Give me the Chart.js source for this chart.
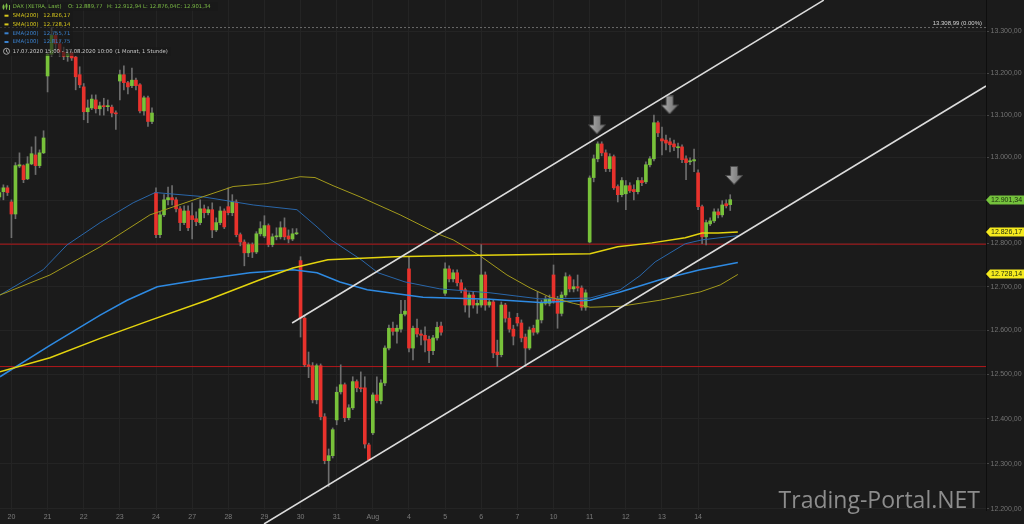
<!DOCTYPE html>
<html>
<head>
<meta charset="utf-8">
<script src="https://cdn.jsdelivr.net/npm/chart.js@4.4.1/dist/chart.umd.min.js"></script>
<style>
  html, body { margin: 0; padding: 0; background: #1b1b1b; }
  #chartCanvas { display: block; }
</style>
</head>
<body>
<canvas id="chartCanvas" width="1024" height="524"></canvas>
<script>
// DAX hourly candles, 17.07.2020 15:00 ... 14.08.2020 17:00 (x = candle number)
const candleOpen = [
  12908, 12920, 12929, 12896, 12868, 12980, 12981, 12950, 12985, 13006, 12981, 13011,
  13193, 13245, 13290, 13270, 13250, 13240, 13248, 13238, 13196,
  13167, 13108, 13117, 13136, 13115, 13122, 13120, 13119, 13105,
  13181, 13196, 13177, 13170, 13183, 13172, 13110, 13141, 13085,
  12918, 12820, 12866, 12901, 12906, 12901, 12880, 12848, 12875,
  12864, 12857, 12848, 12880, 12871, 12878, 12831, 12848, 12875,
  12885, 12871, 12896, 12820, 12803, 12778, 12797, 12780, 12822,
  12817, 12841, 12797, 12815, 12815, 12836, 12817, 12810, 12822,
  12760, 12628, 12522, 12520, 12443, 12520, 12405, 12307, 12318,
  12398, 12461, 12477, 12403, 12425, 12484, 12470, 12470, 12342,
  12369, 12454, 12441, 12481, 12560, 12605, 12598, 12603, 12637,
  12741, 12560, 12605, 12592, 12589, 12580, 12554, 12583, 12610,
  12685, 12741, 12718, 12732, 12709, 12693, 12658, 12681, 12658,
  12658, 12727, 12658, 12665, 12551, 12545, 12658, 12628, 12603,
  12630, 12617, 12585, 12560, 12605, 12596, 12624, 12662, 12662,
  12727, 12671, 12639, 12681, 12723, 12695, 12700, 12697, 12653,
  12803, 12953, 12997, 13032, 13011, 12974, 13002, 12932, 12913,
  12915, 12934, 12925, 12920, 12946, 12943, 12983, 12997, 13082,
  13044, 13041, 13037, 13032, 13023, 13025, 12997, 12990, 12992,
  12964, 12885, 12815, 12845, 12852, 12873, 12866, 12892, 12889.77
];
const candleHigh = [
  12929, 12936, 12934, 12901, 12988, 13011, 12983, 13002, 13025, 13049, 13018, 13063,
  13250, 13308.99, 13300, 13280, 13262, 13256, 13252, 13240, 13215,
  13175, 13136, 13148, 13148, 13131, 13140, 13136, 13124, 13110,
  13207, 13217, 13180, 13212, 13188, 13175, 13145, 13145, 13117,
  12929, 12873, 12913, 12931, 12934, 12906, 12885, 12887, 12887,
  12894, 12873, 12901, 12889, 12885, 12894, 12859, 12885, 12880,
  12929, 12913, 12901, 12824, 12808, 12801, 12801, 12827, 12850,
  12864, 12845, 12822, 12836, 12850, 12859, 12831, 12834, 12834,
  12769, 12635, 12551, 12527, 12524, 12524, 12412, 12333, 12380,
  12472, 12522, 12481, 12432, 12495, 12488, 12506, 12495, 12346,
  12459, 12495, 12488, 12565, 12612, 12619, 12612, 12669, 12669,
  12769, 12610, 12626, 12601, 12608, 12587, 12589, 12619, 12619,
  12755, 12748, 12739, 12739, 12716, 12697, 12686, 12688, 12669,
  12797, 12734, 12672, 12669, 12578, 12665, 12662, 12642, 12612,
  12639, 12624, 12592, 12608, 12612, 12688, 12669, 12678, 12681,
  12750, 12678, 12688, 12732, 12727, 12716, 12727, 12702, 12693,
  12957, 13006, 13037, 13037, 13018, 13009, 13006, 12936, 12953,
  12946, 12941, 12936, 12953, 12953, 12990, 13002, 13100, 13086,
  13072, 13053, 13046, 13041, 13034, 13030, 13004, 12999, 13020,
  12971, 12889, 12854, 12859, 12880, 12880, 12899, 12901, 12912.94
];
const candleLow = [
  12901, 12901, 12911, 12813, 12857, 12976, 12941, 12948, 12983, 12960, 12976, 13009,
  13155, 13240, 13255, 13240, 13232, 13228, 13230, 13160, 13165,
  13089, 13082, 13113, 13105, 13100, 13100, 13110, 13096, 13066,
  13136, 13160, 13150, 13165, 13160, 13105, 13100, 13073, 13080,
  12813, 12813, 12862, 12889, 12889, 12873, 12829, 12843, 12829,
  12810, 12841, 12843, 12859, 12866, 12813, 12827, 12843, 12834,
  12866, 12864, 12815, 12794, 12748, 12769, 12767, 12776, 12817,
  12813, 12792, 12792, 12808, 12810, 12808, 12801, 12806, 12820,
  12585, 12518, 12493, 12436, 12434, 12398, 12300, 12249, 12313,
  12387, 12456, 12394, 12398, 12421, 12461, 12461, 12335, 12307,
  12365, 12436, 12434, 12475, 12556, 12589, 12571, 12596, 12633,
  12551, 12533, 12585, 12567, 12551, 12527, 12545, 12578, 12589,
  12680, 12711, 12711, 12702, 12686, 12642, 12630, 12651, 12639,
  12653, 12646, 12653, 12538, 12518, 12540, 12619, 12596, 12567,
  12610, 12574, 12518, 12556, 12589, 12592, 12617, 12658, 12656,
  12662, 12605, 12633, 12676, 12688, 12688, 12690, 12646, 12646,
  12801, 12943, 12990, 13004, 12967, 12967, 12925, 12896, 12908,
  12878, 12918, 12901, 12915, 12934, 12939, 12978, 12992, 13049,
  13006, 13018, 13013, 13016, 12999, 12988, 12948, 12983, 12967,
  12878, 12799, 12796, 12841, 12848, 12859, 12861, 12882, 12876.04
];
const candleClose = [
  12918, 12929, 12918, 12868, 12981, 12983, 12948, 12985, 13009, 12981, 13011, 13046,
  13245, 13290, 13270, 13250, 13240, 13246, 13236, 13191, 13172,
  13108, 13117, 13138, 13115, 13122, 13120, 13122, 13105, 13103,
  13196, 13177, 13167, 13183, 13170, 13110, 13141, 13085, 13105,
  12820, 12866, 12901, 12906, 12901, 12880, 12848, 12875, 12836,
  12855, 12850, 12880, 12871, 12878, 12831, 12848, 12875, 12838,
  12871, 12896, 12820, 12803, 12778, 12797, 12780, 12822, 12834,
  12841, 12797, 12815, 12817, 12836, 12815, 12810, 12822, 12824,
  12628, 12522, 12518, 12443, 12520, 12405, 12307, 12318, 12376,
  12460, 12477, 12403, 12425, 12484, 12470, 12468, 12344, 12309,
  12454, 12441, 12481, 12560, 12605, 12598, 12605, 12637, 12644,
  12560, 12605, 12592, 12589, 12578, 12554, 12583, 12607, 12596,
  12741, 12718, 12732, 12709, 12693, 12658, 12681, 12658, 12662,
  12727, 12658, 12665, 12549, 12545, 12658, 12628, 12603, 12587,
  12617, 12583, 12560, 12601, 12596, 12624, 12662, 12671, 12671,
  12667, 12639, 12681, 12723, 12695, 12700, 12697, 12653, 12686,
  12952, 12997, 13032, 13011, 12974, 13002, 12929, 12913, 12946,
  12934, 12922, 12920, 12946, 12941, 12983, 12997, 13082, 13058,
  13039, 13034, 13030, 13025, 13025, 12995, 12988, 12992, 12995,
  12885, 12815, 12848, 12852, 12873, 12866, 12889, 12887, 12901.34
];

// moving averages as [candle, value]
const sma200 = [[0.15,12506],[12.6,12538],[25.1,12582],[37.5,12623],[51.7,12669],[64.9,12716],[73.1,12743],[81.8,12762],[98.5,12769],[111,12771],[147.1,12776],[154,12792],[162.5,12801],[170.8,12813],[175,12824],[179,12824],[183.9,12826.17]];
const sma100 = [[0.15,12681],[12.6,12727],[25.1,12792],[37.5,12866],[50,12906],[58.2,12932],[66.6,12939],[74.9,12955],[78.6,12953],[83.1,12934],[89.8,12908],[99.8,12866],[109.7,12820],[113,12808],[119.7,12771],[126.4,12727],[132.2,12697],[137.1,12676],[142.9,12662],[147.1,12653],[154.6,12655],[164.5,12669],[174.5,12688],[179.5,12704],[183.9,12728.14]];
const ema200 = [[0.15,12495],[12.6,12566],[25.1,12635],[31.8,12669],[39.3,12700],[50,12716],[62.4,12732],[73.1,12739],[79.1,12732],[84.8,12711],[91.6,12693],[105.5,12676],[122.2,12671],[134.6,12664],[147.1,12669],[154.6,12688],[164.5,12716],[174.5,12739],[183.9,12755.71]];
const ema100 = [[0.15,12681],[10.9,12739],[16.8,12796],[25.1,12848],[33.3,12894],[38.8,12918],[50,12909],[63.2,12889],[74.1,12878],[79.1,12838],[82.6,12808],[90.1,12762],[94.3,12732],[101,12711],[109.7,12695],[122.2,12686],[134.6,12672],[147.1,12674],[154.6,12693],[159.5,12725],[163.3,12757],[170.8,12799],[175,12808],[183.9,12817.75]];

// drawn trend channel and levels
const upperTrend = [[72.9, 12617], [205.3, 13375]];
const lowerTrend = [[65.9, 12167], [245.7, 13169]];
const redLevels = [12798, 12518];
const periodHigh = 13308.99;
const arrowMarks = [[148.8, 13077], [166.9, 13124], [182.96, 12958]];

// axes
const dayTicks = [3, 12, 21, 30, 39, 48, 57, 66, 75, 84, 93, 102, 111, 120, 129, 138, 147, 156, 165, 174];
const dayLabels = ["20", "21", "22", "23", "24", "27", "28", "29", "30", "31", "Aug", "4", "5", "6", "7", "10", "11", "12", "13", "14"];
const priceTicks = [12200, 12300, 12400, 12500, 12600, 12700, 12800, 12900, 13000, 13100, 13200, 13300];
const xMin = 0.15, xMax = 245.7;
const yMin = 12197.7, yMax = 13375.4;

const priceTags = [
  { value: 12901.34, text: "12.901,34", color: "#74c23c" },
  { value: 12826.17, text: "12.826,17", color: "#f5ea1e" },
  { value: 12728.14, text: "12.728,14", color: "#f5ea1e" }
];

const GREEN = "#78c23a";
const RED = "#e8322c";

const fmtPrice = (v) => String(Math.round(v)).replace(/\B(?=(\d{3})+(?!\d))/g, ".") + ",00";
const toPoints = (arr) => arr.map((p) => ({ x: p[0], y: p[1] }));
const flatLine = (v) => [{ x: xMin, y: v }, { x: xMax, y: v }];

const makeArrow = () => {
  const c = document.createElement("canvas");
  c.width = 18; c.height = 19;
  const g = c.getContext("2d");
  g.beginPath();
  g.moveTo(5.5, 0.5); g.lineTo(12.5, 0.5); g.lineTo(12.5, 9.5); g.lineTo(17.5, 9.5);
  g.lineTo(9, 18.5); g.lineTo(0.5, 9.5); g.lineTo(5.5, 9.5); g.closePath();
  const grad = g.createLinearGradient(0, 0, 18, 0);
  grad.addColorStop(0, "#b0b0b0");
  grad.addColorStop(1, "#6c6c6c");
  g.fillStyle = grad;
  g.fill();
  g.strokeStyle = "#4a4a4a";
  g.lineWidth = 1;
  g.stroke();
  return c;
};

const overlay = {
  id: "overlay",
  afterDraw(chart) {
    const ctx = chart.ctx;
    const ys = chart.scales.y;
    ctx.save();

    // label of the period high line
    ctx.font = '6px "Liberation Sans", Arial, sans-serif';
    ctx.fillStyle = "#d4d4d4";
    ctx.textAlign = "right";
    ctx.textBaseline = "middle";
    ctx.fillText("13.308,99 (0.00%)", 982, ys.getPixelForValue(periodHigh) - 4.3);

    // price tags on the axis
    ctx.font = '7px "Liberation Sans", Arial, sans-serif';
    ctx.textAlign = "left";
    priceTags.forEach((t) => {
      const py = Math.round(ys.getPixelForValue(t.value));
      ctx.fillStyle = t.color;
      ctx.beginPath();
      ctx.moveTo(986, py);
      ctx.lineTo(990, py - 4.5);
      ctx.lineTo(1024, py - 4.5);
      ctx.lineTo(1024, py + 4.5);
      ctx.lineTo(990, py + 4.5);
      ctx.closePath();
      ctx.fill();
      ctx.fillStyle = "#1d2a10";
      ctx.fillText(t.text, 991, py + 0.5);
    });

    // legend boxes
    ctx.fillStyle = "rgba(24,24,24,0.62)";
    ctx.fillRect(0, 2.5, 218, 8.5);
    ctx.fillRect(0, 11, 73, 36);
    ctx.fillRect(0, 47, 171, 9);

    ctx.font = '5.3px "DejaVu Sans", Verdana, sans-serif';
    ctx.textBaseline = "middle";
    ctx.textAlign = "left";

    // row 1
    ctx.fillStyle = "#7cbc46";
    ctx.fillRect(3, 4.5, 1, 5);
    ctx.fillRect(2.5, 5.5, 2, 3);
    ctx.fillRect(6, 3.5, 1, 6);
    ctx.fillRect(5.5, 4.5, 2, 3);
    ctx.fillRect(9, 5, 1, 5);
    ctx.fillText("DAX (XETRA, Last)", 12.7, 7);
    ctx.fillText("O: 12.889,77", 68, 7);
    ctx.fillText("H: 12.912,94", 107, 7);
    ctx.fillText("L: 12.876,04", 143, 7);
    ctx.fillText("C: 12.901,34", 176.5, 7);

    const rows = [
      ["SMA(200)", "12.826,17", "#d8c81c", 15.7],
      ["SMA(100)", "12.728,14", "#d8c81c", 24.4],
      ["EMA(200)", "12.755,71", "#3a82d0", 33.3],
      ["EMA(100)", "12.817,75", "#3a82d0", 42]
    ];
    rows.forEach((r) => {
      ctx.fillStyle = r[2];
      ctx.fillRect(4.5, r[3] - 1, 4, 2);
      ctx.fillText(r[0], 12.7, r[3]);
      ctx.fillText(r[1], 43.3, r[3]);
    });

    // row 6
    ctx.strokeStyle = "#c8c8c8";
    ctx.lineWidth = 0.8;
    ctx.beginPath();
    ctx.arc(6.5, 51.3, 3, 0, Math.PI * 2);
    ctx.moveTo(6.5, 49.5); ctx.lineTo(6.5, 51.5); ctx.lineTo(8, 52.5);
    ctx.stroke();
    ctx.fillStyle = "#c8c8c8";
    ctx.fillText("17.07.2020 15:00 - 17.08.2020 10:00", 12.7, 51.3);
    ctx.fillText("(1 Monat, 1 Stunde)", 115, 51.3);

    // watermark
    ctx.font = '23px "Open Sans", "DejaVu Sans", sans-serif';
    ctx.fillStyle = "#8d8d8d";
    ctx.textAlign = "right";
    ctx.textBaseline = "alphabetic";
    ctx.fillText("Trading-Portal.NET", 980, 508);

    ctx.restore();
  }
};

const bodies = candleClose.map((c, k) => ({ x: k, y: [candleOpen[k], c] }));
const wicks = candleClose.map((c, k) => ({ x: k, y: [candleLow[k], candleHigh[k]] }));
const bodyColors = candleClose.map((c, k) => (c >= candleOpen[k] ? GREEN : RED));

const chartConfig = {
  type: "bar",
  data: {
    datasets: [
      {
        type: "line",
        data: toPoints(upperTrend),
        borderColor: "#dcdcdc",
        borderWidth: 1.6,
        pointRadius: 0,
        order: 0
      },
      {
        type: "line",
        data: toPoints(lowerTrend),
        borderColor: "#dcdcdc",
        borderWidth: 1.6,
        pointRadius: 0,
        clip: { left: 0, top: 0, right: 0, bottom: 20 },
        order: 0
      },
      {
        type: "line",
        data: toPoints(arrowMarks),
        showLine: false,
        pointStyle: makeArrow(),
        order: 0
      },
      {
        type: "line",
        data: toPoints(sma200),
        borderColor: "#e4d40e",
        borderWidth: 1.5,
        pointRadius: 0,
        order: 2
      },
      {
        type: "line",
        data: toPoints(sma100),
        borderColor: "#a39a1c",
        borderWidth: 1,
        pointRadius: 0,
        order: 2
      },
      {
        type: "line",
        data: toPoints(ema200),
        borderColor: "#2e8ae2",
        borderWidth: 1.5,
        pointRadius: 0,
        order: 2
      },
      {
        type: "line",
        data: toPoints(ema100),
        borderColor: "#2a67aa",
        borderWidth: 1,
        pointRadius: 0,
        order: 2
      },
      {
        data: bodies,
        backgroundColor: bodyColors,
        barThickness: 3,
        minBarLength: 1,
        grouped: false,
        borderWidth: 0,
        order: 4
      },
      {
        data: wicks,
        backgroundColor: "#6e6e6e",
        barThickness: 1,
        minBarLength: 1,
        grouped: false,
        borderWidth: 0,
        order: 5
      },
      {
        type: "line",
        data: flatLine(redLevels[0]),
        borderColor: "#b3181b",
        borderWidth: 1,
        pointRadius: 0,
        order: 8
      },
      {
        type: "line",
        data: flatLine(redLevels[1]),
        borderColor: "#b3181b",
        borderWidth: 1,
        pointRadius: 0,
        order: 8
      },
      {
        type: "line",
        data: flatLine(periodHigh),
        borderColor: "#6a6a6a",
        borderWidth: 1,
        borderDash: [2, 2],
        pointRadius: 0,
        order: 8
      }
    ]
  },
  options: {
    responsive: false,
    animation: false,
    devicePixelRatio: 1,
    layout: { padding: 0, autoPadding: false },
    plugins: {
      legend: { display: false },
      tooltip: { enabled: false }
    },
    scales: {
      x: {
        type: "linear",
        min: xMin,
        max: xMax,
        offset: false,
        afterBuildTicks: (scale) => {
          scale.ticks = dayTicks.map((v) => ({ value: v }));
        },
        afterFit: (scale) => {
          scale.height = 14;
          scale.paddingLeft = 0;
          scale.paddingRight = 0;
        },
        grid: { color: "#242424", offset: false, drawTicks: false },
        border: { display: false },
        ticks: {
          autoSkip: false,
          maxRotation: 0,
          padding: 3,
          color: "#7c7c7c",
          font: { size: 7, family: '"Liberation Sans", Arial, sans-serif' },
          callback: (value, index) => dayLabels[index]
        }
      },
      y: {
        type: "logarithmic",
        position: "right",
        min: yMin,
        max: yMax,
        bounds: "data",
        afterBuildTicks: (scale) => {
          scale.ticks = priceTicks.map((v) => ({ value: v }));
        },
        afterFit: (scale) => {
          scale.width = 38;
          scale.paddingTop = 0;
          scale.paddingBottom = 0;
        },
        grid: { color: "#242424", tickColor: "#474747", tickLength: 3 },
        border: { color: "#0e0e0e", width: 1 },
        ticks: {
          autoSkip: false,
          padding: 1.5,
          color: "#737373",
          font: { size: 7, family: '"Liberation Sans", Arial, sans-serif' },
          callback: (value) => fmtPrice(value)
        }
      }
    }
  },
  plugins: [overlay]
};

new Chart(document.getElementById("chartCanvas"), chartConfig);
</script>
</body>
</html>
